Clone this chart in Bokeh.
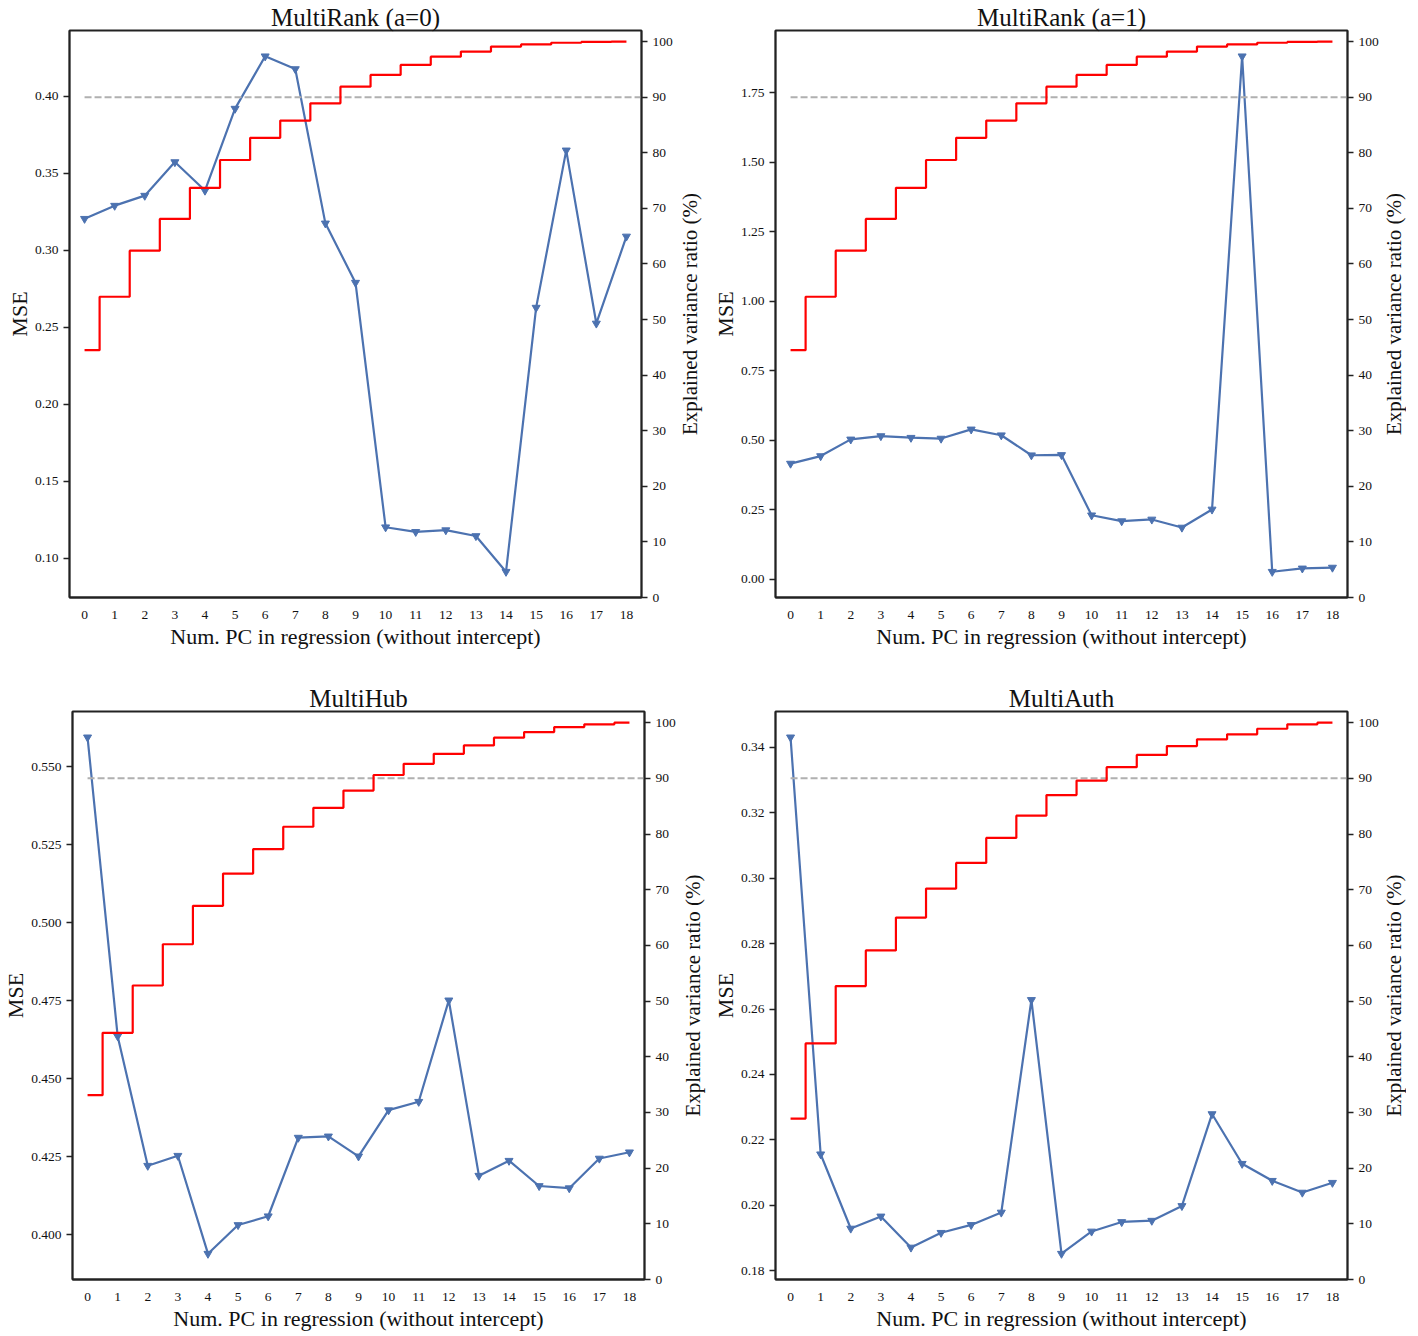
import math
from bokeh.plotting import figure
from bokeh.models import Range1d, LinearAxis, FixedTicker, CustomJSTickFormatter
from bokeh.layouts import column, row
from bokeh.core.properties import value
from bokeh.embed import file_html
from bokeh.resources import INLINE

# ---------------- data ----------------
pcs = list(range(19))

mse_rank0 = [0.3205, 0.329, 0.3355, 0.3573, 0.3388, 0.392, 0.426, 0.4177, 0.3175, 0.279,
             0.1202, 0.1172, 0.1183, 0.1145, 0.0913, 0.2628, 0.3649, 0.2525, 0.309]
mse_rank1 = [0.416, 0.443, 0.503, 0.515, 0.509, 0.506, 0.539, 0.518, 0.446, 0.447,
             0.230, 0.209, 0.215, 0.186, 0.251, 1.881, 0.027, 0.039, 0.042]
mse_hub = [0.5595, 0.4637, 0.4222, 0.4254, 0.394, 0.4032, 0.406, 0.4312, 0.4316, 0.4252,
           0.440, 0.4427, 0.4752, 0.419, 0.4238, 0.4157, 0.415, 0.4245, 0.4265]
mse_auth = [0.3431, 0.2156, 0.1929, 0.1966, 0.1871, 0.1916, 0.194, 0.1978, 0.2628, 0.1852,
            0.192, 0.1949, 0.1953, 0.1998, 0.2279, 0.2127, 0.2075, 0.2039, 0.2069]

evr_rank = [44.5, 54.1, 62.4, 68.1, 73.7, 78.7, 82.7, 85.8, 88.9, 91.9,
            94.0, 95.8, 97.3, 98.2, 99.1, 99.5, 99.8, 99.95, 100.0]
evr_hub = [33.1, 44.3, 52.8, 60.2, 67.1, 72.9, 77.3, 81.3, 84.7, 87.8,
           90.6, 92.6, 94.4, 95.9, 97.3, 98.3, 99.2, 99.7, 100.0]
evr_auth = [28.9, 42.4, 52.7, 59.1, 65.0, 70.2, 74.8, 79.3, 83.3, 87.0,
            89.6, 92.0, 94.2, 95.8, 97.0, 97.9, 98.9, 99.7, 100.0]

titles = ["MultiRank (a=0)", "MultiRank (a=1)", "MultiHub", "MultiAuth"]
ticks_rank0 = [0.10, 0.15, 0.20, 0.25, 0.30, 0.35, 0.40]
ticks_rank1 = [0.00, 0.25, 0.50, 0.75, 1.00, 1.25, 1.50, 1.75]
ticks_hub = [0.400, 0.425, 0.450, 0.475, 0.500, 0.525, 0.550]
ticks_auth = [0.18, 0.20, 0.22, 0.24, 0.26, 0.28, 0.30, 0.32, 0.34]
evr_ticks = [0, 10, 20, 30, 40, 50, 60, 70, 80, 90, 100]
threshold = 90
x_label = "Num. PC in regression (without intercept)"
y_label = "MSE"
y2_label = "Explained variance ratio (%)"

FONT = "Liberation Serif"
BLUE = "#4C72B0"
EVR_MAX = 102


def panel(title, mse, evr, ticks, decimals, fh, bl, br, bt, bb):
    lo, hi = min(mse), max(mse)
    pad = 0.05 * (hi - lo)
    p = figure(frame_width=572, frame_height=fh,
               x_range=Range1d(-0.5, 18.5), y_range=Range1d(lo - pad, hi + pad),
               output_backend="svg", toolbar_location=None,
               min_border_left=bl, min_border_right=br,
               min_border_top=bt, min_border_bottom=bb, title=title)
    p.extra_y_ranges = {"evr": Range1d(0, EVR_MAX)}
    p.title.align = "center"
    p.title.text_font = FONT
    p.title.text_font_size = "25px"
    p.title.text_font_style = "normal"
    p.title.text_color = "#111111"
    p.title.standoff = 0
    p.outline_line_color = "#222222"
    p.outline_line_width = 1.8
    p.xgrid.visible = False
    p.ygrid.visible = False

    # x axis
    xa = p.xaxis[0]
    xa.ticker = FixedTicker(ticks=pcs)
    xa.axis_label = x_label
    xa.major_tick_out = 0
    xa.major_tick_in = 0
    xa.major_label_standoff = 13
    xa.axis_label_standoff = 2

    # left axis
    ya = p.yaxis[0]
    ya.ticker = FixedTicker(ticks=ticks)
    ya.formatter = CustomJSTickFormatter(args=dict(d=decimals), code="return tick.toFixed(d);")
    ya.axis_label = y_label
    ya.major_tick_out = 6
    ya.major_tick_in = 0
    ya.major_label_standoff = 5
    ya.axis_label_standoff = 0

    # right axis (explained variance) ticks
    ra = LinearAxis(y_range_name="evr", ticker=FixedTicker(ticks=evr_ticks))
    ra.major_tick_out = 6
    ra.major_tick_in = 0
    ra.major_label_standoff = 5
    p.add_layout(ra, "right")

    for ax in [xa, ya, ra]:
        ax.minor_tick_line_color = None
        ax.axis_line_color = "#222222"
        ax.axis_line_width = 1.8
        ax.major_tick_line_color = "#222222"
        ax.major_tick_line_width = 1.5
        ax.major_label_text_font = FONT
        ax.major_label_text_font_size = "13.5px"
        ax.major_label_text_color = "#111111"
        ax.axis_label_text_font = FONT
        ax.axis_label_text_font_size = "22px"
        ax.axis_label_text_font_style = "normal"
        ax.axis_label_text_color = "#111111"

    # MSE line with downward triangles
    p.line(pcs, mse, line_color=BLUE, line_width=2.2)
    p.scatter(pcs, mse, marker="inverted_triangle", size=8,
              fill_color=BLUE, line_color=BLUE)

    # threshold and explained variance (right axis)
    p.segment(x0=[0], y0=[threshold], x1=[18.5], y1=[threshold],
              line_color="#b0b0b0", line_width=2, line_dash="7 3",
              y_range_name="evr")
    p.step(pcs, evr, mode="center", line_color="#ff0000", line_width=2.2,
           y_range_name="evr")
    return p


def right_label(width, fh, bt):
    # narrow strip beside a panel carrying the bottom-to-top right-axis label
    q = figure(frame_width=width, frame_height=fh,
               x_range=Range1d(0, 1), y_range=Range1d(0, 1),
               x_axis_type=None, y_axis_type=None,
               output_backend="svg", toolbar_location=None,
               min_border_left=0, min_border_right=0,
               min_border_top=bt, min_border_bottom=0)
    q.outline_line_color = None
    q.xgrid.visible = False
    q.ygrid.visible = False
    q.text(x=[0.5], y=[0.5], text=[y2_label], angle=math.pi / 2,
           text_align="center", text_baseline="middle",
           text_font=value(FONT), text_font_size=value("21px"),
           text_color="#111111")
    return q


f1 = panel(titles[0], mse_rank0, evr_rank, ticks_rank0, 2, 567, 69, 34, 30, 57)
l1 = right_label(28, 567, 30)
f2 = panel(titles[1], mse_rank1, evr_rank, ticks_rank1, 2, 567, 72, 34, 30, 57)
l2 = right_label(25, 567, 30)
f3 = panel(titles[2], mse_hub, evr_hub, ticks_hub, 3, 568, 69, 34, 57, 52)
l3 = right_label(28, 568, 57)
f4 = panel(titles[3], mse_auth, evr_auth, ticks_auth, 2, 568, 69, 34, 57, 52)
l4 = right_label(25, 568, 57)

layout = column(row(f1, l1, f2, l2), row(f3, l3, f4, l4))
open("out.html", "w").write(file_html(layout, INLINE))
